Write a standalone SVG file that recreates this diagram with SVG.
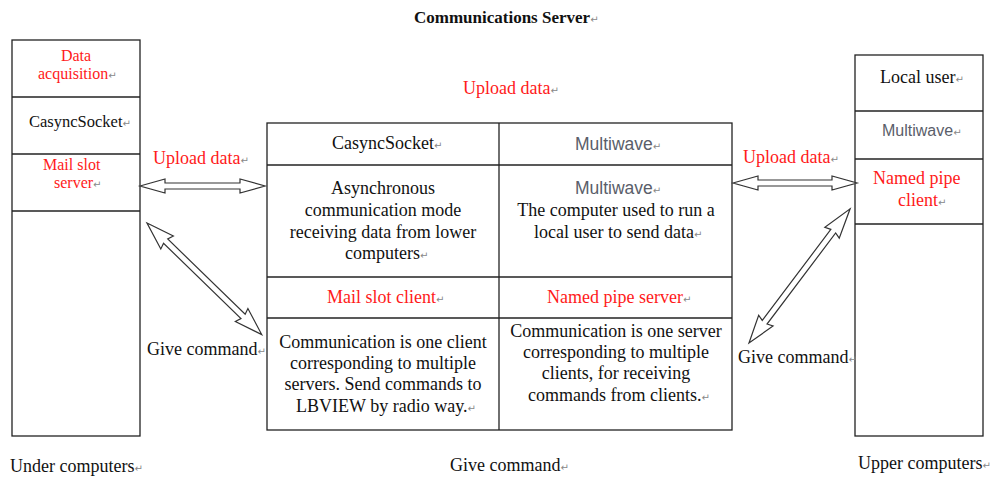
<svg xmlns="http://www.w3.org/2000/svg" width="993" height="477" viewBox="0 0 993 477">
<style>
.bx{fill:#fff;stroke:#222;stroke-width:1.3}
.ln{stroke:#222;stroke-width:1.3;fill:none}
text{font-family:'Liberation Serif','Times New Roman','DejaVu Serif',serif;font-size:18px;fill:#111}
text.r{fill:#ff1a1a}
text.s{font-family:'Liberation Sans',Arial,sans-serif;font-size:17.5px}
text.g{fill:#5a5e6a}
text.m{font-size:16px}
.c{text-anchor:middle}
text.b{font-weight:bold;font-size:17px}
tspan.rt{font-family:'DejaVu Sans',sans-serif;font-size:10px;fill:#888;font-weight:normal}
.ar{fill:#fff;stroke:#333;stroke-width:1.2;stroke-linejoin:miter}
</style>
<g id="title"><text class="b" x="414" y="23">Communications Server<tspan class="rt">↵</tspan></text></g>

<g id="under-computers">
<rect class="bx" x="12" y="40" width="128" height="396"/>
<line class="ln" x1="12" y1="97" x2="140" y2="97"/>
<line class="ln" x1="12" y1="154" x2="140" y2="154"/>
<line class="ln" x1="12" y1="211" x2="140" y2="211"/>
<text class="r c m" x="76" y="61">Data</text>
<text class="r m" x="38" y="79">acquisition<tspan class="rt">↵</tspan></text>
<text x="29" y="127" style="font-size:16.5px">CasyncSocket<tspan class="rt">↵</tspan></text>
<text class="r m" x="43" y="170">Mail slot</text>
<text class="r m" x="54" y="188">server<tspan class="rt">↵</tspan></text>
<text x="10" y="472">Under computers<tspan class="rt">↵</tspan></text>
</g>

<g id="server-table">
<rect class="bx" x="267" y="123" width="465" height="307"/>
<line class="ln" x1="499" y1="123" x2="499" y2="430"/>
<line class="ln" x1="267" y1="165" x2="732" y2="165"/>
<line class="ln" x1="267" y1="277" x2="732" y2="277"/>
<line class="ln" x1="267" y1="318" x2="732" y2="318"/>
<text x="332" y="149">CasyncSocket<tspan class="rt">↵</tspan></text>
<text class="s g" x="575" y="150">Multiwave<tspan class="rt">↵</tspan></text>
<text class="c" x="383" y="194">Asynchronous</text>
<text class="c" x="383" y="216">communication mode</text>
<text class="c" x="383" y="238">receiving data from lower</text>
<text x="345" y="259">computers<tspan class="rt">↵</tspan></text>
<text class="s g" x="575" y="194">Multiwave<tspan class="rt">↵</tspan></text>
<text class="c" x="616" y="216">The computer used to run a</text>
<text x="534" y="238">local user to send data<tspan class="rt">↵</tspan></text>
<text class="r" x="327" y="303">Mail slot client<tspan class="rt">↵</tspan></text>
<text class="r" x="547" y="303">Named pipe server<tspan class="rt">↵</tspan></text>
<text class="c" x="383" y="348">Communication is one client</text>
<text class="c" x="383" y="369">corresponding to multiple</text>
<text class="c" x="383" y="390">servers. Send commands to</text>
<text x="296" y="412">LBVIEW by radio way.<tspan class="rt">↵</tspan></text>
<text class="c" x="616" y="337">Communication is one server</text>
<text class="c" x="616" y="358">corresponding to multiple</text>
<text class="c" x="616" y="379">clients, for receiving</text>
<text x="528" y="401">commands from clients.<tspan class="rt">↵</tspan></text>
</g>

<g id="upper-computers">
<rect class="bx" x="855" y="55" width="128" height="381"/>
<line class="ln" x1="855" y1="111" x2="983" y2="111"/>
<line class="ln" x1="855" y1="159" x2="983" y2="159"/>
<line class="ln" x1="855" y1="224" x2="983" y2="224"/>
<text x="880" y="83">Local user<tspan class="rt">↵</tspan></text>
<text class="s g" x="882" y="136" style="font-size:16px">Multiwave<tspan class="rt">↵</tspan></text>
<text class="r" x="873" y="184">Named pipe</text>
<text class="r" x="898" y="206">client<tspan class="rt">↵</tspan></text>
<text x="858" y="469">Upper computers<tspan class="rt">↵</tspan></text>
</g>

<g id="connectors">
<polygon class="ar" transform="translate(140,186)" points="0,0 25,-7 25,-3 100,-3 100,-7 125,0 100,7 100,3 25,3 25,7"/>
<polygon class="ar" transform="translate(733,183)" points="0,0 25,-7 25,-3 99,-3 99,-7 124,0 99,7 99,3 25,3 25,7"/>
<polygon class="ar" transform="translate(147,223) rotate(44.2)" points="0,0 28,-9 26,-3 134,-3 132,-9 160,0 132,9 134,3 26,3 28,9"/>
<polygon class="ar" transform="translate(749,343) rotate(-53)" points="0,0 28,-9 26,-3 140,-3 138,-9 168,0 138,9 140,3 26,3 28,9"/>
<text class="r" x="463" y="94">Upload data<tspan class="rt">↵</tspan></text>
<text class="r" x="153" y="164">Upload data<tspan class="rt">↵</tspan></text>
<text class="r" x="743" y="163">Upload data<tspan class="rt">↵</tspan></text>
<text x="147" y="355">Give command<tspan class="rt">↵</tspan></text>
<text x="738" y="363">Give command<tspan class="rt">↵</tspan></text>
<text x="450" y="471">Give command<tspan class="rt">↵</tspan></text>
</g>
</svg>
